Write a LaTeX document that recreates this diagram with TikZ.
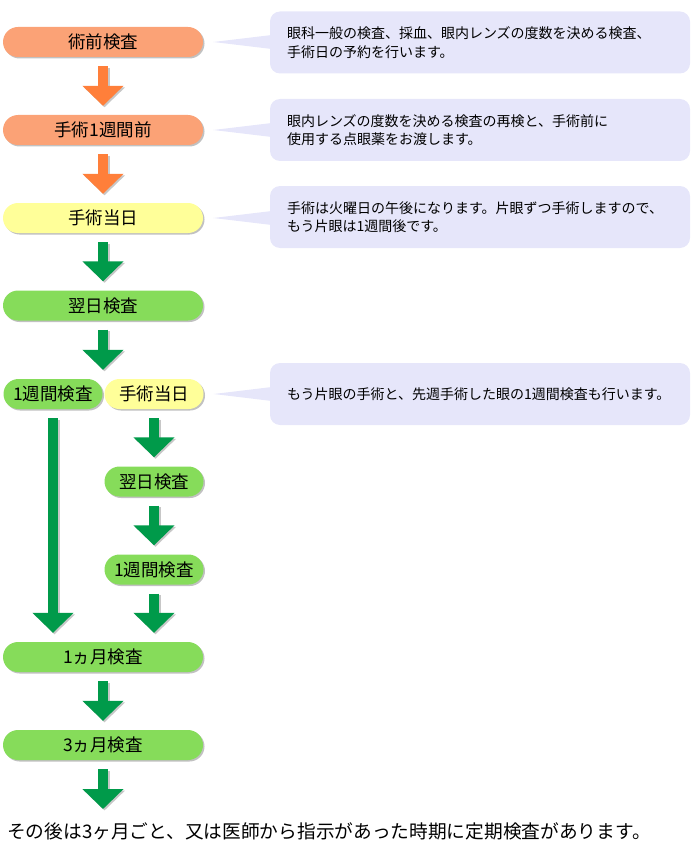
\documentclass[tikz,border=0pt]{standalone}
\usepackage{fontspec}
\setmainfont{Noto Sans CJK JP}
\usetikzlibrary{arrows.meta,calc,shadows}
\definecolor{pillorange}{HTML}{FBA276}
\definecolor{arroworange}{HTML}{FF7F3A}
\definecolor{pillyellow}{HTML}{FFFF99}
\definecolor{pillgreen}{HTML}{86DC5A}
\definecolor{arrowgreen}{HTML}{009A4A}
\definecolor{bubblecol}{HTML}{E6E6FA}
\tikzset{
  pill/.style={rounded corners=15pt, minimum height=30pt, inner sep=0pt,
    font=\fontsize{17.5}{20}\selectfont,
    drop shadow={shadow xshift=1.5pt, shadow yshift=-1.5pt, opacity=0.35, fill=black!70}},
  widepill/.style={pill, minimum width=200pt},
  halfpill/.style={pill, minimum width=99pt},
  orangepill/.style={fill=pillorange},
  yellowpill/.style={fill=pillyellow},
  greenpill/.style={fill=pillgreen},
  bubble/.style={fill=bubblecol, rounded corners=10pt, minimum width=420pt,
    minimum height=62pt, text width=386pt, align=left, inner sep=0pt,
    font=\fontsize{14}{18.5}\selectfont},
  blockarrow/.style={line width=10pt, -{Triangle[width=40pt,length=20pt]}},
  arrowshadow/.style={blockarrow, black!22, transform canvas={shift={(1.5pt,-1.5pt)}}},
  bottomtext/.style={anchor=west, inner sep=0pt, font=\fontsize{18.7}{22}\selectfont},
}
\newcommand\flowarrow[3]{%
  \draw[arrowshadow] #2 -- #3;
  \draw[blockarrow, #1] #2 -- #3;}
\newcommand\pointer[2]{%
  \fill[bubblecol] ($(#1.east)+(10pt,0)$) -- ($(#2.west |- #1.east)+(2pt,7pt)$)
    -- ($(#2.west |- #1.east)+(2pt,-7pt)$) -- cycle;}
\begin{document}
\begin{tikzpicture}[x=1pt,y=1pt]
\useasboundingbox (0,0) rectangle (700,-861);
% pills
\node[widepill, orangepill] (p1) at (103,-42) {術前検査};
\node[widepill, orangepill] (p2) at (103,-130) {手術1週間前};
\node[widepill, yellowpill] (p3) at (103,-218) {手術当日};
\node[widepill, greenpill] (p4) at (103,-305.5) {翌日検査};
\node[halfpill, greenpill] (l1) at (53,-394) {1週間検査};
\node[halfpill, yellowpill] (r1) at (154,-394) {手術当日};
\node[halfpill, greenpill] (r2) at (154,-481.5) {翌日検査};
\node[halfpill, greenpill] (r3) at (154,-569.5) {1週間検査};
\node[widepill, greenpill] (m1) at (103,-657) {1ヵ月検査};
\node[widepill, greenpill] (m3) at (103,-745) {3ヵ月検査};
\coordinate (endarrow) at (103,-809);
\node[bottomtext] (note) at (7,-831) {その後は3ヶ月ごと、又は医師から指示があった時期に定期検査があります。};
% bubbles
\node[bubble] (b1) at (480,-42.5) {眼科一般の検査、採血、眼内レンズの度数を決める検査、\\手術日の予約を行います。};
\node[bubble] (b2) at (480,-130) {眼内レンズの度数を決める検査の再検と、手術前に\\使用する点眼薬をお渡します。};
\node[bubble] (b3) at (480,-217) {手術は火曜日の午後になります。片眼ずつ手術しますので、\\もう片眼は1週間後です。};
\node[bubble] (b4) at (480,-394) {もう片眼の手術と、先週手術した眼の1週間検査も行います。};
\pointer{p1}{b1}
\pointer{p2}{b2}
\pointer{p3}{b3}
\pointer{r1}{b4}
% arrows
\flowarrow{arroworange}{($(p1.south)+(0,-9)$)}{($(p2.north)+(0,9)$)}
\flowarrow{arroworange}{($(p2.south)+(0,-9)$)}{($(p3.north)+(0,9)$)}
\flowarrow{arrowgreen}{($(p3.south)+(0,-9)$)}{($(p4.north)+(0,9)$)}
\flowarrow{arrowgreen}{($(p4.south)+(0,-9)$)}{($(p4.south |- l1.north)+(0,9)$)}
\flowarrow{arrowgreen}{($(l1.south)+(0,-9)$)}{($(l1.south |- m1.north)+(0,9)$)}
\flowarrow{arrowgreen}{($(r1.south)+(0,-9)$)}{($(r2.north)+(0,9)$)}
\flowarrow{arrowgreen}{($(r2.south)+(0,-9)$)}{($(r3.north)+(0,9)$)}
\flowarrow{arrowgreen}{($(r3.south)+(0,-9)$)}{($(r3.south |- m1.north)+(0,9)$)}
\flowarrow{arrowgreen}{($(m1.south)+(0,-9)$)}{($(m3.north)+(0,9)$)}
\flowarrow{arrowgreen}{($(m3.south)+(0,-9)$)}{(endarrow)}
\end{tikzpicture}
\end{document}
